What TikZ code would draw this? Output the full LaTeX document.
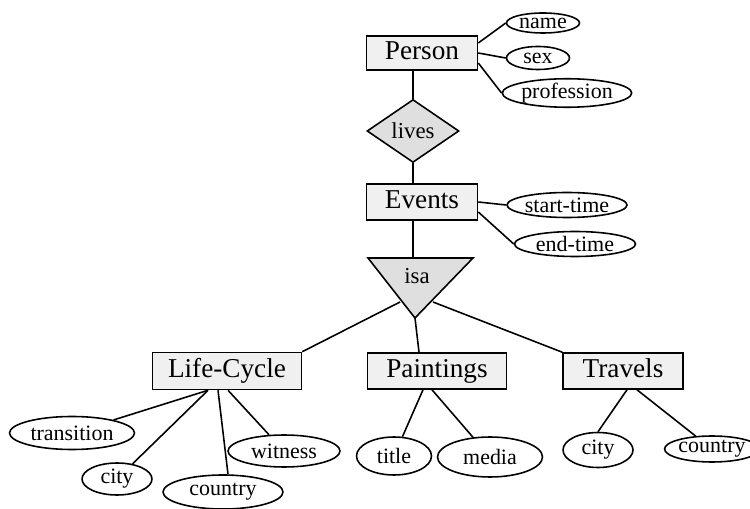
\documentclass[tikz,border=0pt]{standalone}
\usepackage{fontspec}
\setmainfont{Liberation Serif}
\usetikzlibrary{shapes.geometric,positioning,calc}

\begin{document}
\begin{tikzpicture}[x=0.02cm, y=-0.02cm, line width=0.9pt]
\tikzstyle{entity}=[draw=black,fill=gray!12,text=black,inner sep=0pt,text height=10.5pt,text depth=3pt,font=\fontsize{15.5}{18}\selectfont]
\tikzstyle{attr}=[draw=black,fill=white,ellipse,inner sep=0pt,font=\fontsize{12.5}{15}\selectfont]
\tikzstyle{rel}=[draw=black,fill=gray!25,font=\fontsize{13}{15}\selectfont]
\useasboundingbox (0,0) rectangle (750,509);

\node[entity, minimum width=2.22cm, minimum height=0.68cm] (Person)     at (422,53)  {Person};
\node[attr, minimum width=1.46cm, minimum height=0.40cm]   (name)       at (543,23)  {name};
\node[attr, minimum width=1.26cm, minimum height=0.46cm]   (sex)        at (538,58)  {sex};
\node[attr, minimum width=2.40cm, minimum height=0.40cm]   (profession) at (567,93)  {profession};
\node[rel, diamond, aspect=1.46, inner sep=0pt, minimum width=1.84cm, minimum height=1.26cm] (lives) at (413,131) {lives};
\node[entity, minimum width=2.22cm, minimum height=0.72cm] (Events)     at (422,202) {Events};
\node[attr, minimum width=2.40cm, minimum height=0.50cm]   (starttime)  at (567,205) {start-time};
\node[attr, minimum width=2.42cm, minimum height=0.50cm]   (endtime)    at (575,244) {end-time};

\filldraw[rel] (368,258) -- (473,258) -- (415,318) -- cycle;
\node[font=\fontsize{13}{15}\selectfont] (isa) at (417,276) {isa};
\coordinate (isatop) at (413,258);
\coordinate (isaleft) at (400,302);
\coordinate (isatip) at (415,318);
\coordinate (isaright) at (433,302);

\node[entity, minimum width=2.98cm, minimum height=0.74cm] (LifeCycle)  at (227,371) {Life-Cycle};
\node[entity, minimum width=2.78cm, minimum height=0.72cm] (Paintings)  at (437,371) {Paintings};
\node[entity, minimum width=2.40cm, minimum height=0.72cm] (Travels)    at (623,371) {Travels};

\node[attr, minimum width=2.50cm, minimum height=0.66cm]   (transition) at (72,433)  {transition};
\node[attr, minimum width=1.40cm, minimum height=0.64cm]   (lccity)     at (117,479) {city};
\node[attr, minimum width=2.40cm, minimum height=0.68cm]   (lccountry)  at (223,492) {country};
\node[attr, minimum width=2.24cm, minimum height=0.64cm]   (witness)    at (284,451) {witness};
\node[attr, minimum width=1.50cm, minimum height=0.76cm]   (title)      at (394,456) {title};
\node[attr, minimum width=2.10cm, minimum height=0.80cm]   (media)      at (490,457) {media};
\node[attr, minimum width=1.40cm, minimum height=0.70cm]   (trcity)     at (598,450) {city};
\node[attr, minimum width=1.50cm, minimum height=0.52cm]   (trcountry)  at (712,449) {country};

\path
([yshift=0.2cm]Person.east)  edge (name.west)
(Person.east)                edge (sex.west)
([yshift=-0.2cm]Person.east) edge (profession.west)
(lives.north)                edge (lives.north |- Person.south)
(lives.south)                edge (lives.south |- Events.north)
(Events.east)                edge (starttime.west)
([yshift=-0.2cm]Events.east) edge (endtime.west)
(isatop)                     edge (isatop |- Events.south)
(isaleft)                    edge (LifeCycle.north east)
(isatip)                     edge ([xshift=-0.36cm]Paintings.north)
(isaright)                   edge (Travels.north west)
([xshift=-0.38cm]LifeCycle.south) edge (transition)
                                  edge (lccity)
([xshift=-0.18cm]LifeCycle.south) edge ([xshift=0.1cm]lccountry.north)
([xshift=0.02cm]LifeCycle.south)  edge (witness)
([xshift=-0.28cm]Paintings.south) edge (title)
([xshift=-0.10cm]Paintings.south) edge (media)
([xshift=0.08cm]Travels.south)    edge (trcity.north)
([xshift=0.28cm]Travels.south)    edge (trcountry);
\end{tikzpicture}
\end{document}
